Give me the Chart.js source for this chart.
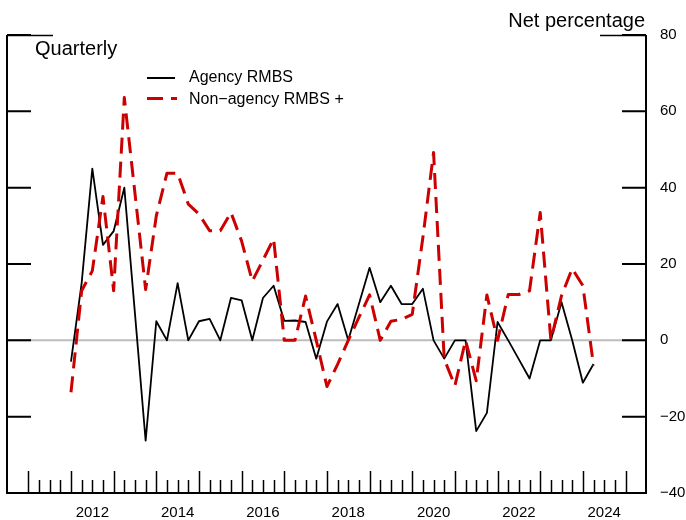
<!DOCTYPE html>
<html>
<head>
<meta charset="utf-8">
<script src="https://cdn.jsdelivr.net/npm/chart.js@4.4.1/dist/chart.umd.min.js"></script>
<style>
  html, body { margin: 0; padding: 0; background: #fff; }
  #wrap { width: 686px; height: 520px; }
</style>
</head>
<body>
<div id="wrap"><canvas id="chart" width="686" height="520"></canvas></div>
<script>
// Net percentage, quarterly
const quarters = [
  '2012Q1','2012Q2','2012Q3','2012Q4','2013Q1','2013Q2','2013Q3','2013Q4',
  '2014Q1','2014Q2','2014Q3','2014Q4','2015Q1','2015Q2','2015Q3','2015Q4',
  '2016Q1','2016Q2','2016Q3','2016Q4','2017Q1','2017Q2','2017Q3','2017Q4',
  '2018Q1','2018Q2','2018Q3','2018Q4','2019Q1','2019Q2','2019Q3','2019Q4',
  '2020Q1','2020Q2','2020Q3','2020Q4','2021Q1','2021Q2','2021Q3','2021Q4',
  '2022Q1','2022Q2','2022Q3','2022Q4','2023Q1','2023Q2','2023Q3','2023Q4',
  '2024Q1','2024Q2'
];
const agencyRMBS = [
  -5.6, 15, 45, 25, 28.6, 40, 7, -26.3,
  5, 0, 15, 0, 5, 5.6, 0, 11.1,
  10.5, 0, 11.1, 14.3, 5.1, 5.2, 4.8, -4.8,
  4.9, 9.5, 0, 9.5, 19, 10, 14.3, 9.5,
  9.5, 13.5, 0, -4.8, 0, 0, -23.8, -19,
  4.8, 0, -5, -10, 0, 0, 10, 0,
  -11.1, -6.2
];
const nonAgencyRMBS = [
  -13.6, 13, 18.2, 37.7, 13, 63.6, 38.5, 13.3,
  32.6, 43.8, 43.8, 35.7, 33.1, 28.7, 28.7, 33.5,
  26, 15.5, 21, 26.6, 0, 0, 11.6, 0,
  -12.1, -6.3, 0, 6, 11.9, 0, 5, 5.5,
  6.8, 27, 49.2, -4.9, -11.9, 0, -10.6, 11.9,
  0, 12, 12, 13, 33.5, 0, 11.7, 18.8,
  14.3, -6.6
];
const yearLabels = [2012, 2014, 2016, 2018, 2020, 2022, 2024];
const yTicks = [-40, -20, 0, 20, 40, 60, 80];

const FONT = '"Liberation Sans", Arial, sans-serif';
const RED = '#cc0000';

function toYear(q) {
  return Number(q.slice(0, 4)) + (Number(q.slice(5)) - 1) / 4;
}

function points(values) {
  return values.map((v, i) => ({ x: toYear(quarters[i]), y: v }));
}

// Marco, marcas hacia dentro, línea de cero, títulos y leyenda
const framePlugin = {
  id: 'frame',
  beforeDatasetsDraw(chart) {
    const { ctx, chartArea: a, scales: { y } } = chart;
    const y0 = y.getPixelForValue(0);
    ctx.save();
    ctx.strokeStyle = '#bdbdbd';
    ctx.lineWidth = 2;
    ctx.beginPath();
    ctx.moveTo(a.left, y0);
    ctx.lineTo(a.right, y0);
    ctx.stroke();
    ctx.restore();
  },
  afterDatasetsDraw(chart) {
    const { ctx, chartArea: a, scales: { x, y } } = chart;
    ctx.save();
    ctx.strokeStyle = '#000';
    ctx.lineCap = 'butt';

    // ejes
    ctx.lineWidth = 2;
    ctx.beginPath();
    ctx.moveTo(a.left, a.top);
    ctx.lineTo(a.left, a.bottom);
    ctx.lineTo(a.right, a.bottom);
    ctx.lineTo(a.right, a.top);
    ctx.stroke();

    // marcas del eje y, en ambos lados
    yTicks.forEach(v => {
      const py = y.getPixelForValue(v);
      ctx.beginPath();
      ctx.moveTo(a.left, py);
      ctx.lineTo(a.left + 24, py);
      ctx.moveTo(a.right, py);
      ctx.lineTo(a.right - 24, py);
      ctx.stroke();
    });
    ctx.lineWidth = 1.5;
    ctx.beginPath();
    ctx.moveTo(a.left, a.top + 0.5);
    ctx.lineTo(a.left + 46, a.top + 0.5);
    ctx.moveTo(a.right, a.top + 0.5);
    ctx.lineTo(a.right - 46, a.top + 0.5);
    ctx.stroke();

    // marcas trimestrales del eje x
    ctx.lineWidth = 1.5;
    const first = yearLabels[0] - 1;
    const last = yearLabels[yearLabels.length - 1] + 1;
    for (let t = first; t <= last + 0.001; t += 0.25) {
      const px = Math.round(x.getPixelForValue(t)) + 0.5;
      const major = Math.abs(t - Math.round(t)) < 0.001;
      ctx.beginPath();
      ctx.moveTo(px, a.bottom);
      ctx.lineTo(px, a.bottom - (major ? 22 : 13));
      ctx.stroke();
    }

    // títulos
    ctx.fillStyle = '#000';
    ctx.font = '20px ' + FONT;
    ctx.textBaseline = 'alphabetic';
    ctx.textAlign = 'right';
    ctx.fillText('Net percentage', a.right - 1, 27);
    ctx.textAlign = 'left';
    ctx.fillText('Quarterly', 35, 55);

    // leyenda
    ctx.lineWidth = 2;
    ctx.beginPath();
    ctx.moveTo(147, 78);
    ctx.lineTo(175, 78);
    ctx.stroke();
    ctx.strokeStyle = RED;
    ctx.lineWidth = 3;
    ctx.setLineDash([16, 8]);
    ctx.beginPath();
    ctx.moveTo(147, 98.5);
    ctx.lineTo(177, 98.5);
    ctx.stroke();
    ctx.setLineDash([]);
    ctx.font = '16px ' + FONT;
    ctx.textBaseline = 'middle';
    ctx.fillText('Agency RMBS', 189, 78);
    ctx.fillText('Non\u2212agency RMBS +', 189, 99.5);
    ctx.restore();
  }
};

new Chart(document.getElementById('chart'), {
  type: 'line',
  data: {
    datasets: [
      {
        label: 'Agency RMBS',
        data: points(agencyRMBS),
        borderColor: '#000',
        borderWidth: 1.8,
        borderJoinStyle: 'round',
        pointRadius: 0,
        tension: 0,
        order: 1
      },
      {
        label: 'Non-agency RMBS +',
        data: points(nonAgencyRMBS),
        borderColor: RED,
        borderWidth: 3,
        borderDash: [16, 8],
        borderJoinStyle: 'round',
        pointRadius: 0,
        tension: 0,
        order: 0
      }
    ]
  },
  options: {
    responsive: false,
    animation: false,
    layout: { padding: { left: 7, top: 35, right: 0, bottom: 0 } },
    plugins: {
      legend: { display: false },
      tooltip: { enabled: false }
    },
    scales: {
      x: {
        type: 'linear',
        min: 2010.5,
        max: 2025.48,
        grid: { display: false, drawTicks: false },
        border: { display: false },
        afterBuildTicks: s => { s.ticks = yearLabels.map(v => ({ value: v + 0.5 })); },
        afterFit: s => { s.height = 27; },
        ticks: {
          autoSkip: false,
          maxRotation: 0,
          padding: 11,
          color: '#000',
          font: { family: FONT, size: 15 },
          callback: v => String(Math.floor(v))
        }
      },
      y: {
        position: 'right',
        min: -40,
        max: 80,
        grid: { display: false, drawTicks: false },
        border: { display: false },
        afterBuildTicks: s => { s.ticks = yTicks.map(v => ({ value: v })); },
        afterFit: s => { s.width = 40; },
        ticks: {
          padding: 14,
          color: '#000',
          font: { family: FONT, size: 15 },
          callback: v => (v < 0 ? '\u2212' + Math.abs(v) : String(v))
        }
      }
    }
  },
  plugins: [framePlugin]
});
</script>
</body>
</html>
